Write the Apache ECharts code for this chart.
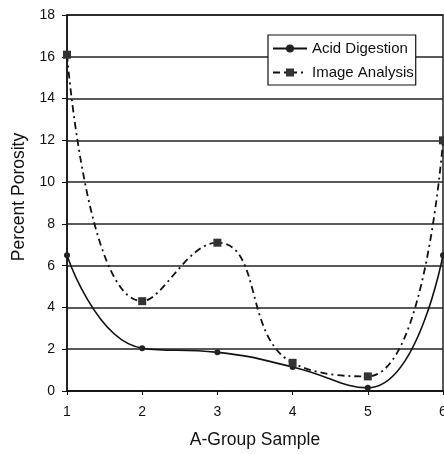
<!DOCTYPE html>
<html><head><meta charset="utf-8">
<script src="https://cdn.jsdelivr.net/npm/echarts@6/dist/echarts.min.js"></script>
<style>html,body{margin:0;padding:0;background:#fff}#c{width:444px;height:454px}</style>
</head><body><div id="c"></div>
<script>
const categories = ['1','2','3','4','5','6'];
const acidDigestion = [6.5, 2.05, 1.85, 1.15, 0.15, 6.5];
const imageAnalysis = [16.1, 4.3, 7.1, 1.35, 0.7, 12.0];
const yTicks = {min: 0, max: 18, interval: 2};

const chart = echarts.init(document.getElementById('c'));
const font = '"Liberation Sans", Arial, sans-serif';
chart.setOption({
  backgroundColor: '#fff',
  animation: false,
  grid: {left: 67, top: 15, right: 1, bottom: 63, outerBoundsMode: 'none', containLabel: false,
         show: true, borderColor: '#111', borderWidth: 1.4, backgroundColor: 'transparent'},
  legend: {
    top: 35, left: 268, orient: 'vertical', itemGap: 9, itemWidth: 34, itemHeight: 10,
    backgroundColor: '#fff', borderColor: '#111', borderWidth: 1.2, padding: [6, 2, 5, 4],
    textStyle: {fontFamily: font, fontSize: 15, color: '#111'},
    data: ['Acid Digestion', 'Image Analysis']
  },
  xAxis: {
    type: 'category', data: categories, boundaryGap: false,
    name: 'A-Group Sample', nameLocation: 'middle', nameGap: 40,
    nameTextStyle: {fontFamily: font, fontSize: 17.5, color: '#111'},
    axisLine: {lineStyle: {color: '#111', width: 1.5}},
    axisTick: {show: true, length: 4, lineStyle: {color: '#111'}},
    axisLabel: {fontFamily: font, fontSize: 14, color: '#111', margin: 14}
  },
  yAxis: {
    type: 'value', min: yTicks.min, max: yTicks.max, interval: yTicks.interval,
    name: 'Percent Porosity', nameLocation: 'middle', nameGap: 38, nameRotate: 90,
    nameTextStyle: {fontFamily: font, fontSize: 17.5, color: '#111', padding: [0, 0, 0, 12]},
    axisLine: {show: true, lineStyle: {color: '#111', width: 1.5}},
    axisTick: {show: true, length: 5, lineStyle: {color: '#111'}},
    axisLabel: {fontFamily: font, fontSize: 14, color: '#111', margin: 12},
    splitLine: {show: true, lineStyle: {color: '#222', width: 1.5}}
  },
  series: [
    {
      name: 'Acid Digestion', type: 'line', data: acidDigestion, smooth: 0.5,
      symbol: 'circle', symbolSize: 6,
      itemStyle: {color: '#222'},
      lineStyle: {color: '#111', width: 1.6}
    },
    {
      name: 'Image Analysis', type: 'line', data: imageAnalysis, smooth: 0.5,
      symbol: 'rect', symbolSize: 8,
      itemStyle: {color: '#333'},
      lineStyle: {color: '#111', width: 1.8, type: [7, 4, 2, 4]}
    }
  ]
});
</script></body></html>
